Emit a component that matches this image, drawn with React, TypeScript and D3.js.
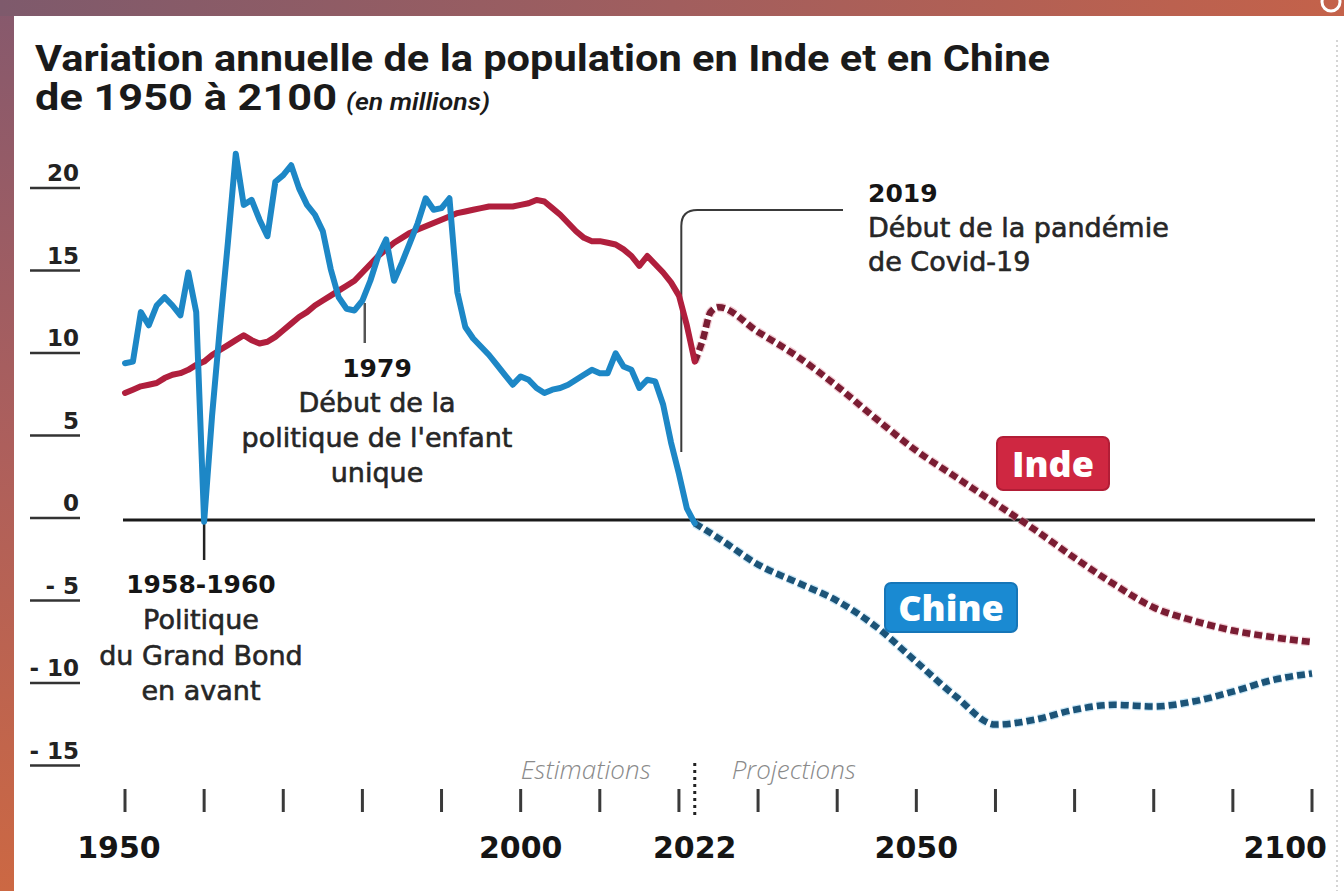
import React from 'react';
import * as d3 from 'd3';

const W = 1344;
const H = 891;

// ---------- DATA (millions of people per year) ----------
const estimateYears = d3.range(1950, 2023); // 1950..2022

const chinaEstimates = [
  9.5, 9.6, 12.6, 11.8, 13.0, 13.5, 13.0, 12.4, 15.0, 12.6,
  -0.1, 6.3, 11.7, 16.8, 22.2, 19.1, 19.4, 18.2, 17.2, 20.5,
  20.9, 21.5, 20.1, 19.1, 18.5, 17.5, 15.2, 13.5, 12.8, 12.7,
  13.3, 14.5, 16.0, 17.0, 14.5, 15.6, 16.8, 18.0, 19.5, 18.8,
  18.9, 19.5, 13.8, 11.7, 11.0, 10.5, 10.0, 9.4, 8.8, 8.2,
  8.7, 8.5, 8.0, 7.7, 7.9, 8.0, 8.2, 8.5, 8.8, 9.1,
  8.9, 8.9, 10.1, 9.3, 9.1, 8.0, 8.5, 8.4, 7.0, 4.7,
  2.8, 0.7, -0.2,
];

const indiaEstimates = [
  7.7, 7.9, 8.1, 8.2, 8.3, 8.6, 8.8, 8.9, 9.1, 9.4,
  9.6, 10.0, 10.3, 10.6, 10.9, 11.2, 10.9, 10.7, 10.8, 11.1,
  11.5, 11.9, 12.3, 12.6, 13.0, 13.3, 13.6, 13.9, 14.2, 14.5,
  15.0, 15.5, 16.0, 16.4, 16.8, 17.1, 17.4, 17.6, 17.8, 18.0,
  18.2, 18.4, 18.6, 18.7, 18.8, 18.9, 19.0, 19.0, 19.0, 19.0,
  19.1, 19.2, 19.4, 19.3, 18.9, 18.5, 18.0, 17.5, 17.1, 16.9,
  16.9, 16.8, 16.7, 16.4, 16.0, 15.4, 16.0, 15.5, 15.0, 14.4,
  13.6, 11.8, 9.6,
];

const chinaProjYears = [2022, 2025, 2030, 2035, 2040, 2045, 2050, 2055, 2060, 2065, 2070, 2075, 2080, 2085, 2090, 2095, 2100];
const chinaProjValues = [-0.2, -1.1, -2.7, -3.8, -4.9, -6.5, -8.6, -10.7, -12.4, -12.1, -11.5, -11.2, -11.3, -11.0, -10.4, -9.7, -9.3];

const indiaProjYears = [2022, 2023, 2024, 2025, 2030, 2035, 2040, 2045, 2050, 2055, 2060, 2065, 2070, 2075, 2080, 2085, 2090, 2095, 2100];
const indiaProjValues = [9.6, 10.9, 12.6, 12.9, 11.4, 9.9, 8.1, 6.1, 4.2, 2.6, 1.0, -0.6, -2.3, -3.9, -5.3, -6.1, -6.7, -7.1, -7.4];

const yTicks = [20, 15, 10, 5, 0, -5, -10, -15];
const xTicks = d3.range(1950, 2101, 10);
const xLabels = [1950, 2000, 2022, 2050, 2100];

const splitYear = 2022;

// ---------- COLOURS ----------
const CHINA = '#1d87c6';
const CHINA_DASH = '#1c5478';
const INDIA = '#b01f3d';
const INDIA_DASH = '#7a1d33';

export default function App() {
  const x = d3.scaleLinear().domain([1950, 2100]).range([125, 1312]);
  const y = d3.scaleLinear().domain([-15, 20]).range([767.5, 190]);

  const straight = d3
    .line<[number, number]>()
    .x((d) => x(d[0]))
    .y((d) => y(d[1]));
  const smooth = d3
    .line<[number, number]>()
    .x((d) => x(d[0]))
    .y((d) => y(d[1]))
    .curve(d3.curveMonotoneX);

  const chinaEst = estimateYears.map((yr, i) => [yr, chinaEstimates[i]] as [number, number]);
  const indiaEst = estimateYears.map((yr, i) => [yr, indiaEstimates[i]] as [number, number]);
  const chinaProj = chinaProjYears.map((yr, i) => [yr, chinaProjValues[i]] as [number, number]);
  const indiaProj = indiaProjYears.map((yr, i) => [yr, indiaProjValues[i]] as [number, number]);

  const annoFont = "'DejaVu Sans', sans-serif";
  const labelFont = "'Open Sans', 'DejaVu Sans', sans-serif";
  const numFont = "'DejaVu Sans', sans-serif";

  const x1960 = x(1960);
  const x1979 = x(1980.3);
  const xCovid = x(2020.3);
  const xSplit = x(splitYear);

  const bodyText = {
    fontFamily: annoFont,
    fill: '#262626',
    fontSize: 27,
    stroke: '#262626',
    strokeWidth: 0.6,
  } as const;

  return (
    <svg
      width={W}
      height={H}
      viewBox={`0 0 ${W} ${H}`}
      style={{ position: 'absolute', left: 0, top: 0, display: 'block' }}
    >
      <defs>
        <linearGradient id="leftGrad" x1="0" y1="0" x2="0" y2="1">
          <stop offset="0" stopColor="#86596d" />
          <stop offset="0.5" stopColor="#ad5f5c" />
          <stop offset="1" stopColor="#cc6843" />
        </linearGradient>
        <linearGradient id="topGrad" x1="0" y1="0" x2="1" y2="0">
          <stop offset="0" stopColor="#7e5a6c" />
          <stop offset="0.5" stopColor="#a15e5e" />
          <stop offset="1" stopColor="#c4624a" />
        </linearGradient>
      </defs>

      <rect x={0} y={0} width={W} height={H} fill="#ffffff" />
      <rect x={0} y={0} width={14} height={H} fill="url(#leftGrad)" />
      <rect x={0} y={0} width={W} height={16} fill="url(#topGrad)" />
      <circle cx={1331} cy={2} r={9} fill="none" stroke="#ffffff" strokeWidth={3} />
      <line x1={1337} y1={40} x2={1337} y2={H} stroke="#c8c8c8" strokeWidth={1.5} strokeDasharray="2 3" />

      {/* Title */}
      <text
        x={35}
        y={71}
        fontFamily="Roboto, sans-serif"
        fontWeight={700}
        fontSize={37}
        fill="#1a1a1a"
        textLength={1015}
        lengthAdjust="spacingAndGlyphs"
      >
        Variation annuelle de la population en Inde et en Chine
      </text>
      <text
        x={35}
        y={110}
        fontFamily="Roboto, sans-serif"
        fontWeight={700}
        fontSize={37}
        fill="#1a1a1a"
        textLength={302}
        lengthAdjust="spacingAndGlyphs"
      >
        de 1950 à 2100
      </text>
      <text
        x={346}
        y={110}
        fontFamily="Roboto, sans-serif"
        fontStyle="italic"
        fontWeight={600}
        fontSize={24}
        fill="#1a1a1a"
        textLength={144}
        lengthAdjust="spacingAndGlyphs"
      >
        (en millions)
      </text>

      {/* Y axis labels with underlines */}
      {yTicks.map((v) => (
        <g key={`yt${v}`}>
          <text
            x={79}
            y={y(v) - 9}
            textAnchor="end"
            fontFamily={numFont}
            fontWeight={700}
            fontSize={23}
            fill="#222"
          >
            {v < 0 ? `- ${Math.abs(v)}` : `${v}`}
          </text>
          <line x1={30} x2={80} y1={y(v) - 2} y2={y(v) - 2} stroke="#333" strokeWidth={2.5} />
        </g>
      ))}

      {/* Zero line */}
      <line x1={123} x2={1315} y1={y(0)} y2={y(0)} stroke="#1a1a1a" strokeWidth={3} />

      {/* Annotation: Grand Bond */}
      <line x1={x1960} x2={x1960} y1={y(0)} y2={560} stroke="#222" strokeWidth={2.5} />
      <g {...bodyText} textAnchor="middle">
        <text x={201} y={593} fontWeight={700} fontSize={25} fill="#151515" strokeWidth={0}>1958-1960</text>
        <text x={201} y={629}>Politique</text>
        <text x={201} y={665}>du Grand Bond</text>
        <text x={201} y={700}>en avant</text>
      </g>

      {/* Annotation: one-child policy */}
      <line x1={x1979} x2={x1979} y1={303} y2={343} stroke="#555" strokeWidth={2.5} />
      <g {...bodyText} textAnchor="middle">
        <text x={377} y={377} fontWeight={700} fontSize={25} fill="#151515" strokeWidth={0}>1979</text>
        <text x={377} y={412}>Début de la</text>
        <text x={377} y={447}>politique de l'enfant</text>
        <text x={377} y={482}>unique</text>
      </g>

      {/* Annotation: Covid */}
      <path
        d={`M${xCovid},452 V226 Q${xCovid},210 ${xCovid + 16},210 H843`}
        fill="none"
        stroke="#3a3a3a"
        strokeWidth={2}
      />
      <g {...bodyText}>
        <text x={868} y={202} fontWeight={700} fontSize={25} fill="#151515" strokeWidth={0}>2019</text>
        <text x={868} y={237}>Début de la pandémie</text>
        <text x={868} y={271}>de Covid-19</text>
      </g>

      {/* Projections (dashed) */}
      <path d={smooth(indiaProj) || ''} fill="none" stroke="#e6a3b0" strokeWidth={9} strokeDasharray="8 4" opacity={0.55} />
      <path d={smooth(indiaProj) || ''} fill="none" stroke={INDIA_DASH} strokeWidth={6.5} strokeDasharray="8 4" />
      <path d={smooth(chinaProj) || ''} fill="none" stroke="#9fd3f0" strokeWidth={9} strokeDasharray="8 4" opacity={0.55} />
      <path d={smooth(chinaProj) || ''} fill="none" stroke={CHINA_DASH} strokeWidth={6.5} strokeDasharray="8 4" />

      {/* Estimates (solid) */}
      <path d={straight(indiaEst) || ''} fill="none" stroke={INDIA} strokeWidth={6} strokeLinejoin="round" strokeLinecap="round" />
      <path d={straight(chinaEst) || ''} fill="none" stroke={CHINA} strokeWidth={6} strokeLinejoin="round" strokeLinecap="round" />

      {/* Series labels */}
      <g>
        <rect x={997} y={437} width={112} height={53} rx={6} fill="#cf2741" stroke="#b21d36" strokeWidth={2} />
        <text x={1053} y={477} textAnchor="middle" fontFamily={labelFont} fontWeight={800} fontSize={36} fill="#ffffff">
          Inde
        </text>
        <rect x={885} y={583} width={132} height={49} rx={6} fill="#1a8ad2" stroke="#1676b8" strokeWidth={2} />
        <text x={951} y={621} textAnchor="middle" fontFamily={labelFont} fontWeight={800} fontSize={36} fill="#ffffff">
          Chine
        </text>
      </g>

      {/* X axis: estimations / projections */}
      <text
        x={xSplit - 44}
        y={779}
        textAnchor="end"
        fontFamily={labelFont}
        fontStyle="italic"
        fontWeight={300}
        fontSize={26}
        fill="#8a8a8a"
      >
        Estimations
      </text>
      <text
        x={xSplit + 37}
        y={779}
        textAnchor="start"
        fontFamily={labelFont}
        fontStyle="italic"
        fontWeight={300}
        fontSize={26}
        fill="#8a8a8a"
      >
        Projections
      </text>
      <line x1={xSplit} x2={xSplit} y1={763} y2={818} stroke="#222" strokeWidth={3} strokeDasharray="3 4" />

      {xTicks.map((t) => (
        <line key={`xt${t}`} x1={x(t)} x2={x(t)} y1={789} y2={812} stroke="#3a3a3a" strokeWidth={3} />
      ))}

      {xLabels.map((t) => {
        const isLast = t === 2100;
        const dx = t === 1950 ? -6 : isLast ? 15 : 0;
        return (
          <text
            key={`xl${t}`}
            x={x(t) + dx}
            y={858}
            textAnchor={isLast ? 'end' : 'middle'}
            fontFamily={numFont}
            fontWeight={700}
            fontSize={30}
            fill="#151515"
          >
            {t}
          </text>
        );
      })}
    </svg>
  );
}
